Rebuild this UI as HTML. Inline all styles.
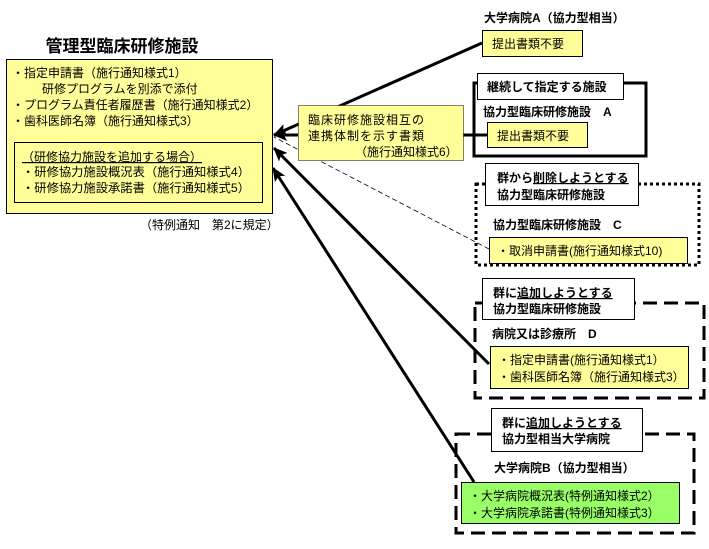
<!DOCTYPE html>
<html><head><meta charset="utf-8"><style>
body{margin:0;background:#fff;}
svg text{font-family:"Liberation Sans","Noto Sans CJK JP",sans-serif;font-size:12px;fill:#000;}
.b{font-weight:bold;}
</style></head><body>
<svg width="709" height="544" viewBox="0 0 709 544" xmlns="http://www.w3.org/2000/svg">
<defs>
<marker id="ah2" markerWidth="14" markerHeight="12" refX="13" refY="6" orient="auto" markerUnits="userSpaceOnUse" viewBox="0 0 14 12">
<path d="M0,0 L14,6 L0,12 L3,6 z" fill="#000"/></marker>
</defs>
<text x="122" y="52" text-anchor="middle" class="b" style="font-size:17px">管理型臨床研修施設</text>
<rect x="6.5" y="59.5" width="266" height="154" fill="#ffff99" stroke="#000"/>
<text x="12" y="77">・指定申請書（施行通知様式1）</text>
<text x="42" y="93">研修プログラムを別添で添付</text>
<text x="12" y="109">・プログラム責任者履歴書（施行通知様式2）</text>
<text x="12" y="125">・歯科医師名簿（施行通知様式3）</text>
<rect x="14.5" y="142.5" width="248" height="60" fill="#ffff99" stroke="#000"/>
<text x="22" y="161" text-decoration="underline">（研修協力施設を追加する場合）</text>
<text x="22" y="176" textLength="228" lengthAdjust="spacingAndGlyphs">・研修協力施設概況表（施行通知様式4）</text>
<text x="22" y="192" textLength="228" lengthAdjust="spacingAndGlyphs">・研修協力施設承諾書（施行通知様式5）</text>
<text x="140" y="229">（特例通知　第2に規定）</text>

<line x1="482" y1="43" x2="274" y2="135" stroke="#000" stroke-width="3" marker-end="url(#ah2)"/>
<line x1="298" y1="135" x2="274" y2="135" stroke="#000" stroke-width="3" marker-end="url(#ah2)"/>
<line x1="463" y1="135" x2="488" y2="135" stroke="#000" stroke-width="3"/>
<line x1="489" y1="249" x2="274" y2="137" stroke="#000" stroke-width="0.8" stroke-dasharray="5,3"/>
<line x1="489" y1="364" x2="274" y2="148" stroke="#000" stroke-width="3" marker-end="url(#ah2)"/>
<line x1="474" y1="482" x2="273" y2="168" stroke="#000" stroke-width="3" marker-end="url(#ah2)"/>

<rect x="298.5" y="105.5" width="165" height="55" fill="#ffff99" stroke="#000" stroke-dasharray="1,1"/>
<text x="308" y="124" letter-spacing="1">臨床研修施設相互の</text>
<text x="308" y="140" letter-spacing="1">連携体制を示す書類</text>
<text x="355" y="156">（施行通知様式6）</text>

<text x="484" y="22" class="b">大学病院A（協力型相当）</text>
<rect x="482.5" y="30.5" width="100" height="26" fill="#ffff99" stroke="#000"/>
<text x="492" y="48">提出書類不要</text>

<rect x="474" y="83" width="172" height="73" fill="none" stroke="#000" stroke-width="3"/>
<rect x="477.5" y="73.5" width="146" height="26" fill="#fff" stroke="#000"/>
<text x="487" y="91" class="b">継続して指定する施設</text>
<text x="483" y="116" class="b">協力型臨床研修施設　A</text>
<rect x="487.5" y="122.5" width="100" height="25" fill="#ffff99" stroke="#000"/>
<text x="497" y="140">提出書類不要</text>

<rect x="476" y="184" width="223" height="81" fill="none" stroke="#000" stroke-width="3" stroke-dasharray="3,3"/>
<rect x="485.5" y="163.5" width="153" height="42" fill="#fff" stroke="#000"/>
<text x="497" y="182" class="b"><tspan>群から</tspan><tspan text-decoration="underline">削除しようとする</tspan></text>
<text x="497" y="199" class="b">協力型臨床研修施設</text>
<text x="493" y="229" class="b">協力型臨床研修施設　C</text>
<rect x="489.5" y="237.5" width="198" height="26" fill="#ffff99" stroke="#000"/>
<text x="497" y="255">・取消申請書(施行通知様式10)</text>

<rect x="475" y="303" width="229" height="95" fill="none" stroke="#000" stroke-width="3" stroke-dasharray="14,7"/>
<rect x="482.5" y="278.5" width="152" height="41" fill="#fff" stroke="#000"/>
<text x="493" y="297" class="b"><tspan>群に</tspan><tspan text-decoration="underline">追加しようとする</tspan></text>
<text x="493" y="313" class="b">協力型臨床研修施設</text>
<text x="492" y="338" class="b">病院又は診療所　D</text>
<rect x="490.5" y="346.5" width="198" height="42" fill="#ffff99" stroke="#000"/>
<text x="498" y="364">・指定申請書(施行通知様式1）</text>
<text x="498" y="381">・歯科医師名簿（施行通知様式3）</text>

<rect x="456" y="434" width="238" height="99" fill="none" stroke="#000" stroke-width="3" stroke-dasharray="14,7"/>
<rect x="491.5" y="408.5" width="151" height="43" fill="#fff" stroke="#000"/>
<text x="502" y="427" class="b"><tspan>群に</tspan><tspan text-decoration="underline">追加しようとする</tspan></text>
<text x="502" y="443" class="b">協力型相当大学病院</text>
<text x="494" y="472" class="b">大学病院B（協力型相当）</text>
<rect x="461.5" y="482.5" width="218" height="41" fill="#99ff66" stroke="#000"/>
<text x="469" y="500">・大学病院概況表(特例通知様式2）</text>
<text x="469" y="517">・大学病院承諾書(特例通知様式3）</text>
</svg>
</body></html>
